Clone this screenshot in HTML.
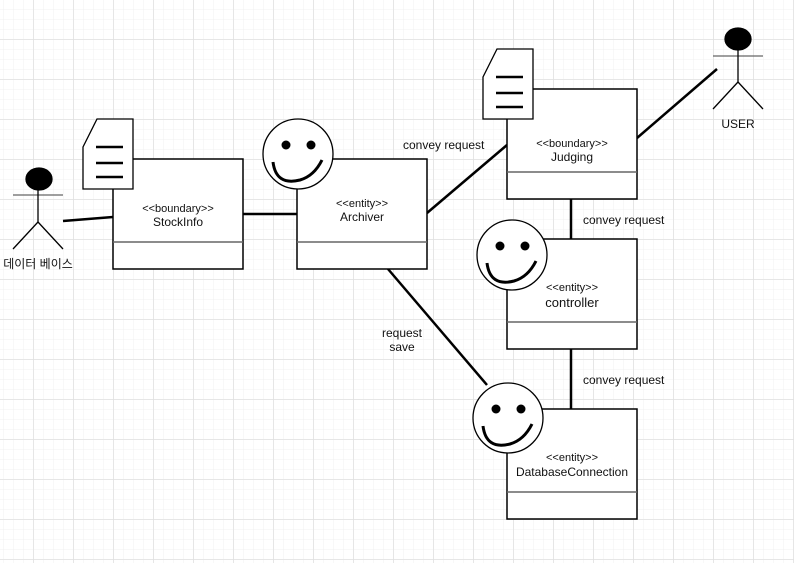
<!DOCTYPE html>
<html><head><meta charset="utf-8"><style>
html,body{margin:0;padding:0;background:#fff;}
svg{display:block;}
text{font-family:"Liberation Sans","Noto Sans CJK KR",sans-serif;fill:#111;}
</style></head><body>
<svg width="794" height="563" viewBox="0 0 794 563" xmlns="http://www.w3.org/2000/svg">
<defs>
<pattern id="minor" width="10" height="10" patternUnits="userSpaceOnUse" x="3" y="9">
<path d="M0 0H10M0 0V10" stroke="#f0f0f0" stroke-width="1" fill="none"/>
</pattern>
<pattern id="major" width="40" height="40" patternUnits="userSpaceOnUse" x="33.5" y="39.5">
<path d="M0 0H40M0 0V40" stroke="#dcdcdc" stroke-width="1" fill="none"/>
</pattern>
</defs>
<rect width="794" height="563" fill="url(#minor)"/>
<rect width="794" height="563" fill="url(#major)"/>

<g stroke="#000" stroke-width="2.5" fill="none">
<line x1="63" y1="221" x2="113" y2="217"/>
<line x1="243" y1="214" x2="297" y2="214"/>
<line x1="427" y1="213" x2="507" y2="145"/>
<line x1="637" y1="138" x2="717" y2="69"/>
<line x1="571" y1="199" x2="571" y2="239"/>
<line x1="571" y1="349" x2="571" y2="409"/>
<line x1="388" y1="269" x2="487" y2="385"/>
</g>

<!-- boxes -->
<g stroke="#000" stroke-width="1.5" fill="#fff">
<rect x="113" y="159" width="130" height="110"/>
<rect x="297" y="159" width="130" height="110"/>
<rect x="507" y="89" width="130" height="110"/>
<rect x="507" y="239" width="130" height="110"/>
<rect x="507" y="409" width="130" height="110"/>
</g>
<g stroke="#666" stroke-width="1.5">
<line x1="113" y1="242" x2="243" y2="242"/>
<line x1="297" y1="242" x2="427" y2="242"/>
<line x1="507" y1="172" x2="637" y2="172"/>
<line x1="507" y1="322" x2="637" y2="322"/>
<line x1="507" y1="492" x2="637" y2="492"/>
</g>

<!-- doc icons -->
<g stroke="#000" stroke-width="1.3" fill="#fff">
<path d="M97 119H133V189H83V147Z"/>
<path d="M497 49H533V119H483V77Z"/>
</g>
<g stroke="#000" stroke-width="2.5">
<line x1="96" y1="147" x2="123" y2="147"/><line x1="96" y1="163" x2="123" y2="163"/><line x1="96" y1="177" x2="123" y2="177"/>
<line x1="496" y1="77" x2="523" y2="77"/><line x1="496" y1="93" x2="523" y2="93"/><line x1="496" y1="107" x2="523" y2="107"/>
</g>

<!-- smileys -->
<g id="sm">
<circle cx="298" cy="154" r="35" fill="#fff" stroke="#000" stroke-width="1.3"/>
<circle cx="286" cy="145" r="4.5" fill="#000"/>
<circle cx="311" cy="145" r="4.5" fill="#000"/>
<path d="M273 162 Q276 186 300 180 Q314 176 322 160" stroke="#000" stroke-width="3" fill="none"/>
</g>
<use href="#sm" transform="translate(214,101)"/>
<use href="#sm" transform="translate(210,264)"/>

<!-- actors -->
<g stroke="#000" stroke-width="1.3" fill="none">
<ellipse cx="39" cy="179" rx="13" ry="11" fill="#000"/>
<line x1="13" y1="195" x2="63" y2="195" stroke="#666"/>
<line x1="38" y1="190" x2="38" y2="222"/>
<line x1="38" y1="222" x2="13" y2="249"/><line x1="38" y1="222" x2="63" y2="249"/>
<ellipse cx="738" cy="39" rx="13" ry="11" fill="#000"/>
<line x1="713" y1="56" x2="763" y2="56" stroke="#666"/>
<line x1="738" y1="50" x2="738" y2="82"/>
<line x1="738" y1="82" x2="713" y2="109"/><line x1="738" y1="82" x2="763" y2="109"/>
</g>

<!-- text -->
<g font-size="12" text-anchor="middle">
<text x="38" y="268">데이터 베이스</text>
<text x="738" y="128">USER</text>
<text x="178" y="212" font-size="11">&lt;&lt;boundary&gt;&gt;</text>
<text x="178" y="226">StockInfo</text>
<text x="362" y="207" font-size="11">&lt;&lt;entity&gt;&gt;</text>
<text x="362" y="221">Archiver</text>
<text x="572" y="147" font-size="11">&lt;&lt;boundary&gt;&gt;</text>
<text x="572" y="161">Judging</text>
<text x="572" y="291" font-size="11">&lt;&lt;entity&gt;&gt;</text>
<text x="572" y="307" font-size="13">controller</text>
<text x="572" y="461" font-size="11">&lt;&lt;entity&gt;&gt;</text>
<text x="572" y="476">DatabaseConnection</text>
<text x="402" y="337">request</text>
<text x="402" y="351">save</text>
</g>
<g font-size="12">
<text x="403" y="149">convey request</text>
<text x="583" y="224">convey request</text>
<text x="583" y="384">convey request</text>
</g>
</svg>
</body></html>
